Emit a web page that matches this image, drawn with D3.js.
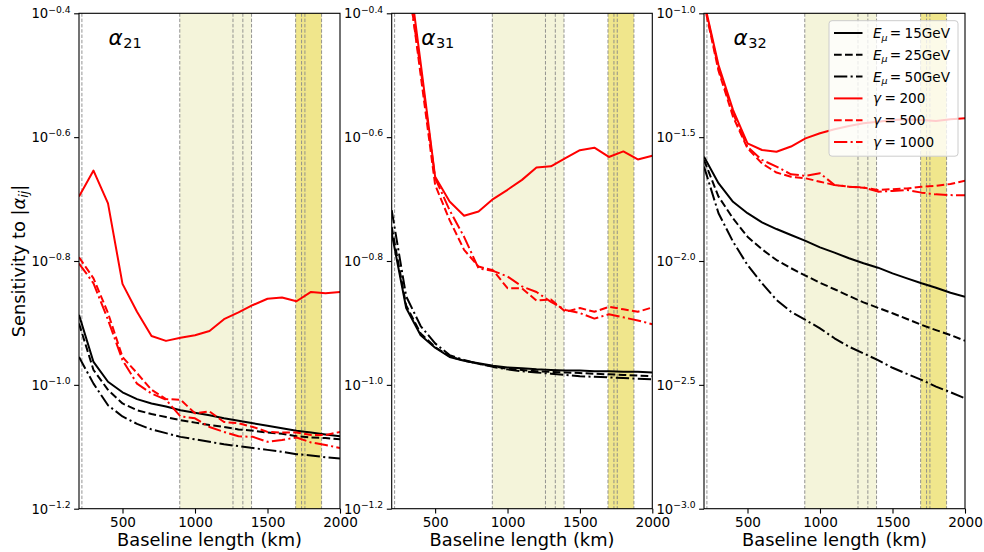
<!DOCTYPE html>
<html><head><meta charset="utf-8">
<script src="https://cdn.jsdelivr.net/npm/d3@7"></script>
<style>body{margin:0;background:#fff;} svg{display:block;font-family:"DejaVu Sans",sans-serif;}</style>
</head><body><svg id="chart" width="984" height="552"></svg>
<script>
// ---------- data (values are log10 of sensitivity) ----------
const baseline = [200,300,400,500,600,700,800,900,1000,1100,1200,1300,1400,1500,1600,1700,1800,1900,2000];
const xTicks = [500,1000,1500,2000];
const yTicks21 = [-1.2,-1.0,-0.8,-0.6,-0.4];
const yTicks31 = [-1.2,-1.0,-0.8,-0.6,-0.4];
const yTicks32 = [-3.0,-2.5,-2.0,-1.5,-1.0];
const expLines = [220,895,1262,1330,1390,1694,1735,1758,1873];
const expBands = [[895,1390],[1694,1873]];
const seriesLabels = ["E15","E25","E50","g200","g500","g1000"];

const a21_E15  = [-0.887,-0.963,-0.995,-1.012,-1.023,-1.030,-1.035,-1.041,-1.045,-1.049,-1.054,-1.058,-1.062,-1.066,-1.070,-1.074,-1.077,-1.080,-1.083];
const a21_E25  = [-0.901,-0.976,-1.008,-1.030,-1.041,-1.047,-1.052,-1.057,-1.061,-1.065,-1.068,-1.072,-1.074,-1.077,-1.079,-1.083,-1.085,-1.086,-1.088];
const a21_E50  = [-0.955,-0.998,-1.033,-1.051,-1.063,-1.072,-1.078,-1.084,-1.088,-1.092,-1.096,-1.099,-1.102,-1.105,-1.108,-1.112,-1.114,-1.117,-1.119];
const a21_g200 = [-0.696,-0.654,-0.707,-0.837,-0.882,-0.921,-0.929,-0.924,-0.920,-0.913,-0.894,-0.883,-0.871,-0.861,-0.859,-0.865,-0.850,-0.852,-0.850];
const a21_g500 = [-0.794,-0.828,-0.884,-0.955,-0.981,-1.008,-1.023,-1.024,-1.046,-1.043,-1.060,-1.062,-1.068,-1.076,-1.077,-1.077,-1.081,-1.081,-1.076];
const a21_g1000= [-0.804,-0.836,-0.895,-0.960,-0.998,-1.014,-1.024,-1.051,-1.054,-1.068,-1.076,-1.083,-1.084,-1.092,-1.089,-1.085,-1.093,-1.097,-1.102];

const a31_E15  = [-0.755,-0.876,-0.920,-0.940,-0.955,-0.961,-0.965,-0.969,-0.972,-0.973,-0.975,-0.976,-0.977,-0.977,-0.978,-0.978,-0.979,-0.979,-0.980];
const a31_E25  = [-0.745,-0.872,-0.917,-0.939,-0.954,-0.961,-0.966,-0.970,-0.974,-0.976,-0.978,-0.979,-0.980,-0.981,-0.982,-0.983,-0.984,-0.985,-0.986];
const a31_E50  = [-0.718,-0.857,-0.905,-0.933,-0.952,-0.960,-0.966,-0.971,-0.975,-0.978,-0.980,-0.982,-0.984,-0.986,-0.987,-0.988,-0.989,-0.990,-0.991];
const a31_g200 = [-0.10,-0.30,-0.48,-0.664,-0.704,-0.727,-0.720,-0.700,-0.685,-0.669,-0.649,-0.647,-0.634,-0.621,-0.617,-0.632,-0.623,-0.636,-0.630];
const a31_g500 = [-0.10,-0.32,-0.50,-0.677,-0.734,-0.782,-0.809,-0.815,-0.844,-0.844,-0.864,-0.862,-0.882,-0.876,-0.882,-0.874,-0.878,-0.882,-0.875];
const a31_g1000= [-0.10,-0.33,-0.49,-0.666,-0.718,-0.761,-0.812,-0.816,-0.825,-0.841,-0.850,-0.866,-0.879,-0.884,-0.893,-0.886,-0.891,-0.896,-0.902];

const a32_E15  = [-1.579,-1.686,-1.761,-1.807,-1.844,-1.871,-1.895,-1.919,-1.945,-1.966,-1.989,-2.009,-2.027,-2.050,-2.070,-2.090,-2.108,-2.128,-2.144];
const a32_E25  = [-1.592,-1.740,-1.828,-1.902,-1.953,-1.996,-2.029,-2.059,-2.088,-2.114,-2.141,-2.167,-2.189,-2.211,-2.234,-2.258,-2.279,-2.299,-2.322];
const a32_E50  = [-1.619,-1.807,-1.922,-2.016,-2.090,-2.157,-2.205,-2.238,-2.272,-2.312,-2.346,-2.373,-2.400,-2.431,-2.456,-2.480,-2.507,-2.530,-2.554];
const a32_g200 = [-0.951,-1.209,-1.390,-1.525,-1.552,-1.559,-1.538,-1.505,-1.484,-1.468,-1.455,-1.444,-1.438,-1.431,-1.428,-1.431,-1.435,-1.428,-1.424];
const a32_g500 = [-0.960,-1.232,-1.417,-1.545,-1.606,-1.643,-1.660,-1.666,-1.680,-1.693,-1.700,-1.704,-1.713,-1.710,-1.707,-1.700,-1.697,-1.689,-1.676];
const a32_g1000= [-0.955,-1.222,-1.404,-1.539,-1.592,-1.619,-1.650,-1.656,-1.646,-1.693,-1.700,-1.703,-1.720,-1.717,-1.713,-1.724,-1.731,-1.734,-1.735];

// ---------- styles ----------
const styles = {
  E15:  {color:"#000000", dash:null},
  E25:  {color:"#000000", dash:"7.7,3.3"},
  E50:  {color:"#000000", dash:"13.3,3.3,2.1,3.3"},
  g200: {color:"#ff0000", dash:null},
  g500: {color:"#ff0000", dash:"7.7,3.3"},
  g1000:{color:"#ff0000", dash:"13.3,3.3,2.1,3.3"}
};

const svg = d3.select("#chart");
const TOP = 13.3, BOTTOM = 508.7;
const FONT = "DejaVu Sans";

const panels = [
  {id:"21", left:79, right:340, ticks:yTicks21, data:[a21_E15,a21_E25,a21_E50,a21_g200,a21_g500,a21_g1000]},
  {id:"31", left:391.7, right:652.3, ticks:yTicks31, data:[a31_E15,a31_E25,a31_E50,a31_g200,a31_g500,a31_g1000]},
  {id:"32", left:704, right:965, ticks:yTicks32, data:[a32_E15,a32_E25,a32_E50,a32_g200,a32_g500,a32_g1000]}
];

panels.forEach((p, pi) => {
  const x = d3.scaleLinear().domain([200,2000]).range([p.left, p.right]);
  const yd = d3.extent(p.ticks);
  const y = d3.scaleLog().domain([Math.pow(10,yd[0]), Math.pow(10,yd[1])]).range([BOTTOM, TOP]);
  const g = svg.append("g");

  const clipId = "clip" + pi;
  svg.append("clipPath").attr("id", clipId).append("rect")
    .attr("x", p.left).attr("y", TOP).attr("width", p.right - p.left).attr("height", BOTTOM - TOP);

  // bands
  g.selectAll(".band").data(expBands).join("rect")
    .attr("x", d => x(d[0])).attr("width", d => x(d[1]) - x(d[0]))
    .attr("y", TOP).attr("height", BOTTOM - TOP)
    .attr("fill", (d,i) => i === 0 ? "#f4f4da" : "#f0e68c");
  // experiment lines
  g.selectAll(".vl").data(expLines).join("line")
    .attr("x1", d => x(d)).attr("x2", d => x(d)).attr("y1", TOP).attr("y2", BOTTOM)
    .attr("stroke", "#888888").attr("stroke-width", 0.9).attr("stroke-dasharray", "3.5,1.8");

  // series
  const line = d3.line().x((d,i) => x(baseline[i])).y(d => y(Math.pow(10, d)));
  const lg = g.append("g").attr("clip-path", `url(#${clipId})`);
  p.data.forEach((vals, si) => {
    const st = styles[seriesLabels[si]];
    lg.append("path").attr("d", line(vals)).attr("fill", "none")
      .attr("stroke", st.color).attr("stroke-width", 2)
      .attr("stroke-dasharray", st.dash).attr("stroke-linejoin", "round");
  });

  // axes
  const xAxis = d3.axisBottom(x).tickValues(xTicks).tickSize(4.9).tickPadding(4).tickFormat(d3.format("d"));
  const xg = g.append("g").attr("transform", `translate(0,${BOTTOM})`).call(xAxis);
  xg.select(".domain").remove();
  xg.selectAll("line").attr("stroke", "#000").attr("stroke-width", 1.1);
  xg.selectAll("text").attr("font-family", FONT).attr("font-size", 13.6).attr("fill", "#000");

  const yAxis = d3.axisLeft(y).tickValues(p.ticks.map(e => Math.pow(10, e))).tickSize(4.9).tickFormat(() => "");
  const yg = g.append("g").attr("transform", `translate(${p.left},0)`).call(yAxis);
  yg.select(".domain").remove();
  yg.selectAll("line").attr("stroke", "#000").attr("stroke-width", 1.1);
  yg.selectAll(".tick").each(function(d) {
    const t = d3.select(this).select("text");
    t.text(null).attr("x", -8.5).attr("dy", null).attr("y", 4.6)
      .attr("font-family", FONT).attr("font-size", 13.2).attr("fill", "#000").attr("text-anchor", "end");
    const e = Math.log10(d);
    t.append("tspan").text("10");
    t.append("tspan").attr("font-size", 9.2).attr("dy", -5.8).text("\u2212" + Math.abs(e).toFixed(1));
  });

  // frame
  g.append("rect").attr("x", p.left).attr("y", TOP).attr("width", p.right - p.left).attr("height", BOTTOM - TOP)
    .attr("fill", "none").attr("stroke", "#000").attr("stroke-width", 1.1);

  // title
  const tt = g.append("text").attr("x", p.left + 29.5).attr("y", 45).attr("font-family", FONT).attr("font-size", 21.5).attr("fill", "#000");
  tt.append("tspan").attr("font-style", "italic").text("\u03b1");
  tt.append("tspan").attr("font-size", 14.5).attr("dy", 3).attr("dx", 0.5).text(p.id);

  // x label
  g.append("text").attr("x", (p.left + p.right) / 2).attr("y", 546).attr("text-anchor", "middle")
    .attr("font-family", FONT).attr("font-size", 17.8).attr("fill", "#000").text("Baseline length (km)");
});

// y label
const yl = svg.append("text").attr("transform", "translate(25,261) rotate(-90)").attr("text-anchor", "middle")
  .attr("font-family", FONT).attr("font-size", 17.8).attr("fill", "#000");
yl.append("tspan").text("Sensitivity to |");
yl.append("tspan").attr("font-style", "italic").text("\u03b1");
yl.append("tspan").attr("font-style", "italic").attr("font-size", 12.5).attr("dy", 3).text("ij");
yl.append("tspan").attr("dy", -3).text("|");

// legend
const legendItems = [
  {key:"E15", kind:"E", val:"15GeV"},
  {key:"E25", kind:"E", val:"25GeV"},
  {key:"E50", kind:"E", val:"50GeV"},
  {key:"g200", kind:"g", val:"200"},
  {key:"g500", kind:"g", val:"500"},
  {key:"g1000", kind:"g", val:"1000"}
];
const lgd = svg.append("g");
lgd.append("rect").attr("x", 829).attr("y", 20.7).attr("width", 129).attr("height", 135.5).attr("rx", 3)
  .attr("fill", "#ffffff").attr("fill-opacity", 0.8).attr("stroke", "#cccccc").attr("stroke-width", 1);
legendItems.forEach((it, i) => {
  const yy = 33 + i * 21.8;
  const st = styles[it.key];
  lgd.append("line").attr("x1", 834).attr("x2", 862.5).attr("y1", yy).attr("y2", yy)
    .attr("stroke", st.color).attr("stroke-width", 2).attr("stroke-dasharray", st.dash);
  const t = lgd.append("text").attr("x", 873).attr("y", yy + 5).attr("font-family", FONT).attr("font-size", 13.6).attr("fill", "#000");
  if (it.kind === "E") {
    t.append("tspan").attr("font-style", "italic").text("E");
    t.append("tspan").attr("font-style", "italic").attr("font-size", 9.5).attr("dy", 2.5).text("\u03bc");
    t.append("tspan").attr("dy", -2.5).attr("dx", 2).text("=");
    t.append("tspan").attr("dx", 3.5).text(it.val);
  } else {
    t.append("tspan").attr("font-style", "italic").text("\u03b3");
    t.append("tspan").attr("dx", 3.5).text("=");
    t.append("tspan").attr("dx", 3.5).text(it.val);
  }
});
</script>
</body></html>
